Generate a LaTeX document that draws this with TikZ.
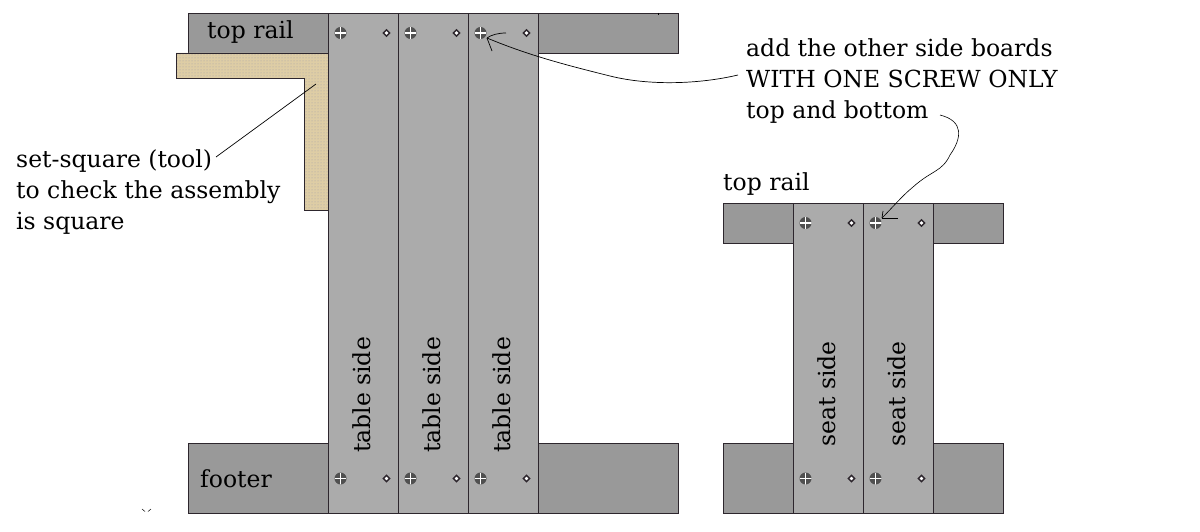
\documentclass[tikz,border=0pt]{standalone}
\usepackage{amsmath}
\usepackage{fontspec}
\setmainfont{DejaVu Serif}
\usetikzlibrary{shapes,arrows,patterns,positioning}
\definecolor{railgray}{RGB}{153,153,153}
\definecolor{boardgray}{RGB}{171,171,171}
\definecolor{edgegray}{RGB}{45,38,45}
\definecolor{screwgray}{RGB}{80,80,80}
\definecolor{squaretan}{RGB}{222,205,165}
\definecolor{squaredot}{RGB}{165,160,170}
\tikzstyle{rail} = [rectangle, draw=edgegray, fill=railgray, line width=0.9pt, inner sep=0pt, minimum width=140pt]
\tikzstyle{board} = [rectangle, draw=edgegray, fill=boardgray, line width=0.9pt, inner sep=0pt, minimum width=70pt]
\tikzstyle{bigscrew} = [circle, fill=screwgray, inner sep=0pt, minimum size=12pt, path picture={\draw [white, line width=1.6pt] (path picture bounding box.north) -- (path picture bounding box.south); \draw [white, line width=1.6pt] (path picture bounding box.west) -- (path picture bounding box.east);}]
\tikzstyle{smallscrew} = [diamond, draw=edgegray, fill=white, line width=1.4pt, inner sep=0pt, minimum size=7pt]
\tikzstyle{lab} = [inner sep=0pt, font=\fontsize{23.5}{31}\selectfont, text=black]
\tikzstyle{line} = [draw, black, line width=0.7pt]
\begin{document}
\begin{tikzpicture}[x=1pt, y=-1pt]
			\useasboundingbox (0, 0) rectangle (1200, 532);

			% large assembly
			\node [rail, minimum height=40pt] (toprailL) at (258.5, 33) {};
			\node [rail, minimum height=40pt] (toprailR) at (608.5, 33) {};
			\node [rail, minimum height=70pt] (footerL) at (258.5, 478) {};
			\node [rail, minimum height=70pt] (footerR) at (608.5, 478) {};
			\draw [draw=edgegray, line width=0.9pt, fill=squaretan] (176, 53) -- (329, 53) -- (329, 210) -- (304, 210) -- (304, 78) -- (176, 78) -- cycle;
			\fill [pattern=dots, pattern color=squaredot] (177, 54) -- (328, 54) -- (328, 209) -- (305, 209) -- (305, 77) -- (177, 77) -- cycle;
			\node [board, minimum height=500pt] (table1) at (363.5, 263) {};
			\node [board, minimum height=500pt] (table2) at (433.5, 263) {};
			\node [board, minimum height=500pt] (table3) at (503.5, 263) {};

			% small assembly
			\node [rail, minimum width=70pt, minimum height=40pt] (seatrailL) at (758, 223) {};
			\node [rail, minimum width=70pt, minimum height=40pt] (seatrailR) at (968, 223) {};
			\node [rail, minimum width=70pt, minimum height=70pt] (seatfootL) at (758, 478) {};
			\node [rail, minimum width=70pt, minimum height=70pt] (seatfootR) at (968, 478) {};
			\node [board, minimum height=310pt] (seat1) at (828, 358) {};
			\node [board, minimum height=310pt] (seat2) at (898, 358) {};

			% screws
			\node [bigscrew] (s1) at (340.5, 33) {};
			\node [smallscrew] (s2) at (386.5, 33) {};
			\node [bigscrew] (s3) at (410.5, 33) {};
			\node [smallscrew] (s4) at (456.5, 33) {};
			\node [bigscrew] (s5) at (480.5, 33) {};
			\node [smallscrew] (s6) at (526.5, 33) {};
			\node [bigscrew] (s7) at (340.5, 478.5) {};
			\node [smallscrew] (s8) at (386.5, 478.5) {};
			\node [bigscrew] (s9) at (410.5, 478.5) {};
			\node [smallscrew] (s10) at (456.5, 478.5) {};
			\node [bigscrew] (s11) at (480.5, 478.5) {};
			\node [smallscrew] (s12) at (526.5, 478.5) {};
			\node [bigscrew] (s13) at (805.5, 223) {};
			\node [smallscrew] (s14) at (851.5, 223) {};
			\node [bigscrew] (s15) at (875.5, 223) {};
			\node [smallscrew] (s16) at (921.5, 223) {};
			\node [bigscrew] (s17) at (805.5, 478.5) {};
			\node [smallscrew] (s18) at (851.5, 478.5) {};
			\node [bigscrew] (s19) at (875.5, 478.5) {};
			\node [smallscrew] (s20) at (921.5, 478.5) {};

			% labels
			\node [lab, anchor=west] (railtext) at (207, 32) {top rail};
			\node [lab, anchor=west] (foottext) at (200, 479) {footer};
			\node [lab, anchor=west] (seatrailtext) at (723, 184) {top rail};
			\node [lab, anchor=north west, align=left] (squaretext) at (16, 149) {set-square (tool)\\to check the assembly\\is square};
			\node [lab, anchor=north west, align=left] (notetext) at (746, 38) {add the other side boards\\WITH ONE SCREW ONLY\\top and bottom};
			\node [lab, rotate=90] (tabletext1) at (362, 395) {table side};
			\node [lab, rotate=90] (tabletext2) at (432, 395) {table side};
			\node [lab, rotate=90] (tabletext3) at (502, 395) {table side};
			\node [lab, rotate=90] (seattext1) at (827, 394) {seat side};
			\node [lab, rotate=90] (seattext2) at (897, 394) {seat side};

			% leaders
			\coordinate (squarefrom) at (216, 157);
			\coordinate (squareto) at (316, 84);
			\coordinate (notefrom) at (738, 75);
			\coordinate (notebend) at (610, 76);
			\coordinate (notetip) at (487, 38);
			\coordinate (notebarb1) at (506, 33);
			\coordinate (notebarb2) at (492, 51);
			\coordinate (seatfrom) at (940, 115);
			\coordinate (seatbend) at (950, 155);
			\coordinate (seatbend2) at (913, 187);
			\coordinate (seattip) at (882, 218);
			\coordinate (seatbarb1) at (898, 218);
			\coordinate (seatbarb2) at (883, 211);
			\coordinate (speck1) at (142, 509);
			\coordinate (speck2) at (145, 511.5);
			\coordinate (speck3) at (151, 509);
			\coordinate (speck4) at (148, 511.5);
			\coordinate (tick1) at (658, 13);
			\coordinate (tick2) at (658, 15);

			\path [line] (squarefrom) -- (squareto);
			\path [line] (notefrom) .. controls (700, 84) and (650, 86) .. (notebend) .. controls (570, 66) and (530, 56) .. (notetip);
			\path [line] (notetip) .. controls (491, 35) and (498, 33) .. (notebarb1);
			\path [line] (notetip) -- (notebarb2);
			\path [line, line width=0.6pt] (seatfrom) .. controls (964, 121) and (962, 138) .. (seatbend) .. controls (942, 172) and (932, 170) .. (seatbend2) .. controls (902, 196) and (892, 208) .. (seattip);
			\path [line] (seattip) -- (seatbarb1);
			\path [line] (seattip) -- (seatbarb2);
			\path [line, line width=0.5pt] (speck1) -- (speck2);
			\path [line, line width=0.5pt] (speck3) -- (speck4);
			\path [line, line width=0.5pt] (tick1) -- (tick2);
\end{tikzpicture}
\end{document}
